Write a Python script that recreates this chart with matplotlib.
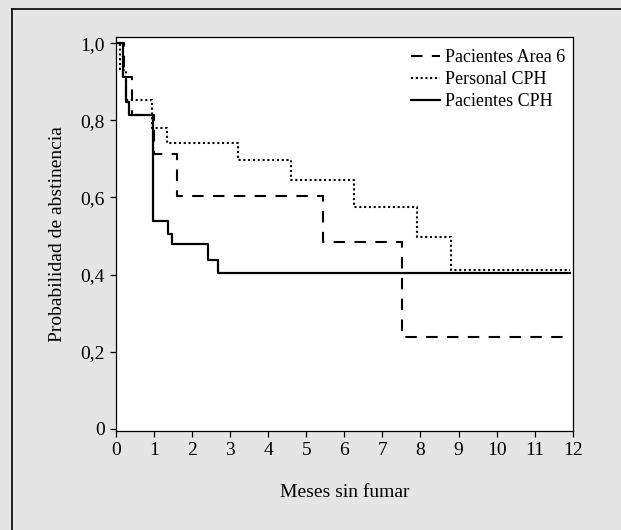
import matplotlib
matplotlib.use("Agg")
import matplotlib.pyplot as plt
from matplotlib.lines import Line2D

# Data (Kaplan-Meier step curves)
area6_t = [0, 0.22, 0.43, 1.0, 1.61, 5.45, 7.52]
area6_s = [1.0, 0.913, 0.813, 0.712, 0.603, 0.485, 0.238]
area6_end = 11.75

personal_t = [0, 0.1, 0.27, 0.94, 1.35, 3.2, 4.59, 6.26, 7.92, 8.79]
personal_s = [1.0, 0.93, 0.852, 0.779, 0.740, 0.697, 0.645, 0.576, 0.498, 0.413]
personal_end = 11.93

cph_t = [0, 0.18, 0.26, 0.35, 0.98, 1.37, 1.46, 2.42, 2.69]
cph_s = [1.0, 0.913, 0.848, 0.815, 0.539, 0.505, 0.478, 0.437, 0.403]
cph_end = 11.93

labels = ["Pacientes Area 6", "Personal CPH", "Pacientes CPH"]
xticks = list(range(0, 13))
yticks = [0, 0.2, 0.4, 0.6, 0.8, 1.0]
yticklabels = ["0", "0,2", "0,4", "0,6", "0,8", "1,0"]

plt.rcParams['font.family'] = ['Liberation Serif', 'DejaVu Serif']

W, H = 621, 530
fig = plt.figure(figsize=(W / 100, H / 100), dpi=100, facecolor='#e5e5e5')
ax = fig.add_axes([116 / W, 1 - 431 / H, (572.7 - 116) / W, (431 - 36.7) / H])
ax.set_facecolor('white')

def ext(t, s, end):
    return list(t) + [end], list(s) + [s[-1]]

t, s = ext(area6_t, area6_s, area6_end)
ax.step(t, s, where='post', color='black', lw=1.5, dashes=(5.5, 4.5), label=labels[0])
t, s = ext(personal_t, personal_s, personal_end)
ax.step(t, s, where='post', color='black', lw=1.5, dashes=(1.0, 1.3), label=labels[1])
t, s = ext(cph_t, cph_s, cph_end)
ax.step(t, s, where='post', color='black', lw=1.6, label=labels[2])

ax.set_xlim(0, 12)
ax.set_ylim(-0.006, 1.017)
ax.set_xticks(xticks)
ax.set_xticklabels([str(v) for v in xticks])
ax.set_yticks(yticks)
ax.set_yticklabels(yticklabels)
ax.tick_params(axis='both', direction='out', length=4, width=0.9, labelsize=14, pad=4)
for sp in ax.spines.values():
    sp.set_linewidth(0.9)

ax.set_xlabel("Meses sin fumar", fontsize=14, labelpad=18)
ax.set_ylabel("Probabilidad de abstinencia", fontsize=14, labelpad=10)

leg = ax.legend(loc='upper left', bbox_to_anchor=(411 / W, 1 - 49 / H),
                bbox_transform=fig.transFigure, frameon=False, fontsize=13,
                handlelength=1.6, handletextpad=0.3, labelspacing=0.28,
                borderpad=0, borderaxespad=0)

# outer frame (top and left edges visible)
fig.add_artist(Line2D([11.7 / W, 11.7 / W], [0, 1 - 9.3 / H], transform=fig.transFigure,
                      color='black', lw=1.2))
fig.add_artist(Line2D([11.7 / W, 1], [1 - 9.3 / H, 1 - 9.3 / H], transform=fig.transFigure,
                      color='black', lw=1.2))

fig.savefig("out.png", dpi=100, facecolor=fig.get_facecolor())
